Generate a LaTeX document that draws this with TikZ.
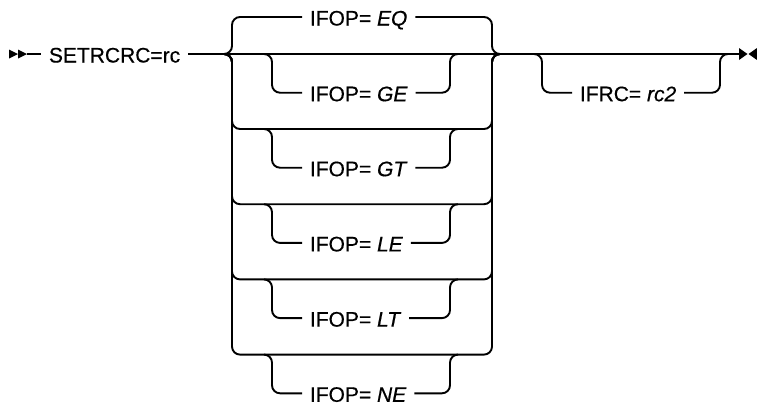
\documentclass[tikz,border=0pt]{standalone}
\usepackage{fontspec}
\setmainfont{Liberation Sans}[FakeBold=0.5]
\begin{document}
\begin{tikzpicture}[x=1pt,y=-1pt,line width=1.9pt,
  rr/.style={rounded corners=8pt},
  lbl/.style={inner xsep=7pt,inner ysep=0pt,text height=17pt,text depth=0pt,
    font=\fontsize{21}{24}\selectfont,anchor=west}]
\fill[white] (0,0) rectangle (757,407);
\useasboundingbox (0,0) rectangle (757,407);
% start / end markers
\fill (9,49.5) -- (18,54) -- (9,58.5) -- cycle;
\fill (18,49.5) -- (27,54) -- (18,58.5) -- cycle;
\fill (739,48) -- (747.5,54) -- (739,60) -- cycle;
\fill (757,48) -- (748.5,54) -- (757,60) -- cycle;
\coordinate (st) at (27,54);
\coordinate (en) at (739,54);
\coordinate (jl) at (224,54);
\coordinate (jr) at (500,54);
% labels
\node[lbl] (setrc) at (41,54) {SETRCRC=rc};
\node[lbl] (eq) at (302,17) {IFOP= \textit{EQ}};
\node[lbl] (ifrc) at (572,92.7) {IFRC= \textit{rc2}};
% main line
\draw (st) -- (setrc.west);
\draw (setrc.east) -- (en);
% EQ branch
\draw[rr] (jl) -| (232,17) -- (eq.west);
\draw[rr] (eq.east) -| (492,54) -- (jr);
% stacked levels
\foreach \L in {129,204.2,279.4,354.6}
  \draw[rr] (jl) -| (232,\L) -| (492,54) -- (jr);
% optional sub-branches
\foreach \n/\t/\L in {ge/GE/54,gt/GT/129,le/LE/204.2,lt/LT/279.4,ne/NE/354.6}{
  \node[lbl] (\n) at (302,\L+38.7) {IFOP= \textit{\t}};
  \coordinate (\n-a) at (264,\L);
  \coordinate (\n-b) at (458,\L);
  \draw[rr] (\n-a) -| ++(8,38.7) -- (\n.west);
  \draw[rr] (\n.east) -| ([xshift=-8pt]\n-b) -- (\n-b);
}
% IFRC branch
\coordinate (ifrc-a) at (534,54);
\coordinate (ifrc-b) at (728,54);
\draw[rr] (ifrc-a) -| ++(8,38.7) -- (ifrc.west);
\draw[rr] (ifrc.east) -| ([xshift=-8pt]ifrc-b) -- (ifrc-b);
\end{tikzpicture}
\end{document}
